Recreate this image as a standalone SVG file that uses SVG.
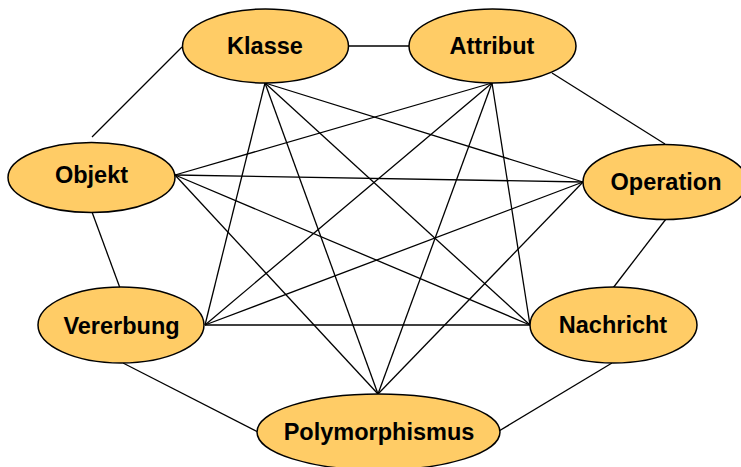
<svg xmlns="http://www.w3.org/2000/svg" width="741" height="467" viewBox="0 0 741 467">
<style>
.n ellipse{fill:#FFCC66;stroke:#000;stroke-width:1.5}
.n text{font-family:"Liberation Sans",Arial,sans-serif;font-weight:bold;font-size:23.5px;text-anchor:middle;fill:#000}
#edges line{stroke:#000;stroke-width:1.3}
</style>
<rect width="741" height="467" fill="#fff"/>
<g id="edges">
<line x1="348" y1="46" x2="409" y2="46"/>
<line x1="182" y1="47" x2="92" y2="137"/>
<line x1="552" y1="73" x2="665" y2="144"/>
<line x1="92" y1="212" x2="120" y2="288"/>
<line x1="666" y1="219" x2="613" y2="288"/>
<line x1="123" y1="363" x2="258" y2="432"/>
<line x1="612" y1="363" x2="499" y2="431"/>
<line x1="265" y1="83" x2="205" y2="325"/>
<line x1="265" y1="83" x2="378" y2="394"/>
<line x1="265" y1="83" x2="530" y2="325"/>
<line x1="265" y1="83" x2="583" y2="182"/>
<line x1="492" y1="83" x2="175" y2="175"/>
<line x1="492" y1="83" x2="205" y2="325"/>
<line x1="492" y1="83" x2="378" y2="394"/>
<line x1="492" y1="83" x2="530" y2="325"/>
<line x1="175" y1="175" x2="583" y2="182"/>
<line x1="175" y1="175" x2="530" y2="325"/>
<line x1="175" y1="175" x2="378" y2="394"/>
<line x1="583" y1="182" x2="205" y2="325"/>
<line x1="583" y1="182" x2="378" y2="394"/>
<line x1="205" y1="325" x2="530" y2="325"/>
</g>
<g id="klasse" class="n"><ellipse cx="265.5" cy="46" rx="83" ry="37"/><text x="265" y="54">Klasse</text></g>
<g id="attribut" class="n"><ellipse cx="492.5" cy="46" rx="83.5" ry="37"/><text x="492" y="54">Attribut</text></g>
<g id="objekt" class="n"><ellipse cx="91.5" cy="177.5" rx="83.5" ry="35"/><text x="91.5" y="183">Objekt</text></g>
<g id="operation" class="n"><ellipse cx="665" cy="182" rx="82" ry="37.5"/><text x="666" y="190">Operation</text></g>
<g id="vererbung" class="n"><ellipse cx="121" cy="325" rx="83" ry="38"/><text x="121.5" y="334">Vererbung</text></g>
<g id="nachricht" class="n"><ellipse cx="613.5" cy="325" rx="83.5" ry="38"/><text x="613" y="333">Nachricht</text></g>
<g id="polymorphismus" class="n"><ellipse cx="378.5" cy="432" rx="121.5" ry="38"/><text x="379" y="440">Polymorphismus</text></g>
</svg>
